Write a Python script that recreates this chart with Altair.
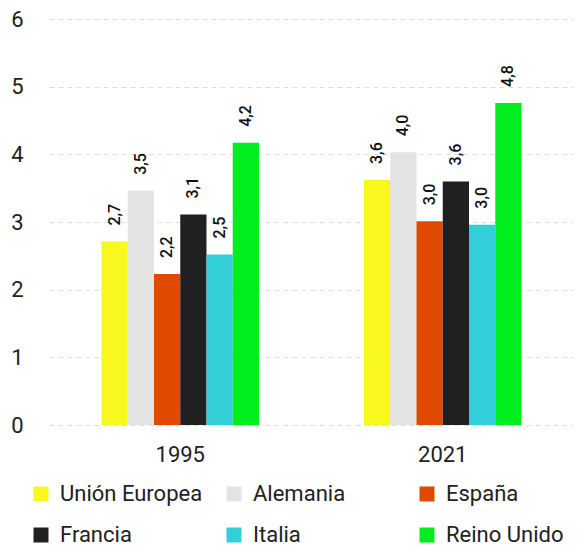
import altair as alt
import pandas as pd

years = ["1995", "2021"]
countries = ["Unión Europea", "Alemania", "España", "Francia", "Italia", "Reino Unido"]
colors = ["#F8F81E", "#E3E3E3", "#E04A00", "#202020", "#33CED8", "#00EE1E"]
values_1995 = [2.71, 3.46, 2.23, 3.11, 2.52, 4.17]
values_2021 = [3.62, 4.03, 3.01, 3.60, 2.96, 4.76]

rows = []
for c, v in zip(countries, values_1995):
    rows.append({"year": "1995", "country": c, "value": v})
for c, v in zip(countries, values_2021):
    rows.append({"year": "2021", "country": c, "value": v})
df = pd.DataFrame(rows)

x = alt.X("year:N", title=None, sort=years,
          scale=alt.Scale(paddingInner=0.4, paddingOuter=0.2),
          axis=alt.Axis(labelAngle=0, labelFont="Roboto", labelFontSize=22,
                        labelColor="#222222", labelPadding=19, domain=False, ticks=False))
xoff = alt.XOffset("country:N", sort=countries, scale=alt.Scale(paddingInner=0, paddingOuter=0))

base = alt.Chart(df).encode(x=x, xOffset=xoff)

bars = base.mark_bar().encode(
    y=alt.Y("value:Q", title=None,
            scale=alt.Scale(domain=[0, 6], nice=False),
            axis=alt.Axis(values=[0, 1, 2, 3, 4, 5, 6], format="d", labelFont="Roboto",
                          labelFontSize=22, labelColor="#222222", labelPadding=26,
                          domain=False, ticks=False, grid=True, gridColor="#DDDDDD",
                          gridDash=[5, 4], gridWidth=1)),
    color=alt.Color("country:N", sort=countries,
                    scale=alt.Scale(domain=countries, range=colors),
                    legend=alt.Legend(title=None, orient="none", legendX=-19, legendY=464,
                                      columns=3, direction="horizontal", gridAlign="all",
                                      symbolType="square", symbolSize=225, symbolStrokeWidth=0,
                                      labelFont="Roboto", labelFontSize=22, labelColor="#222222",
                                      labelOffset=8, columnPadding=20, rowPadding=19,
                                      labelLimit=300, padding=0)),
)

labels = base.transform_calculate(
    label="replace(format(datum.value, '.1f'), '.', ',')"
).mark_text(angle=270, align="left", baseline="middle", dx=16,
            font="Roboto", fontWeight=500, fontSize=16, color="#111111").encode(
    y=alt.Y("value:Q"),
    text="label:N",
)

chart = alt.layer(bars, labels).properties(
    width=525, height=406,
    autosize=alt.AutoSizeParams(type="none"),
    padding={"left": 41, "top": 11, "right": 0, "bottom": 122},
).configure_view(stroke=None)

chart.save("out.html", embed_options={"renderer": "svg", "actions": False})
